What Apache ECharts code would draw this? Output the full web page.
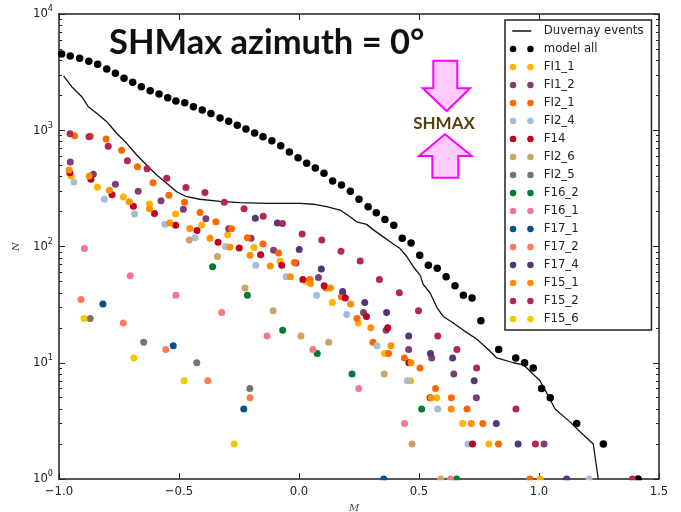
<!DOCTYPE html>
<html>
<head>
<meta charset="utf-8">
<script src="https://cdn.jsdelivr.net/npm/echarts@6/dist/echarts.min.js"></script>
<style>
html,body{margin:0;padding:0;background:#fff;}
#chart{width:681px;height:512px;}
</style>
</head>
<body>
<div id="chart"></div>
<script>
// Magnitude-frequency counts, N events with magnitude >= M
const xTicks = [-1.0, -0.5, 0.0, 0.5, 1.0, 1.5];
const yTicks = [1, 10, 100, 1000, 10000];

const duvernay = [
  [-0.981,2930],[-0.947,2370],[-0.905,1945],[-0.878,1595],[-0.843,1400],[-0.801,1185],
  [-0.760,942],[-0.718,772],[-0.676,612],[-0.635,502],[-0.593,412],[-0.551,350],
  [-0.510,296],[-0.468,268],[-0.413,255],[-0.329,244],[-0.246,238],[-0.135,235],
  [0.004,235],[0.060,231],[0.115,220],[0.171,206],[0.213,180],[0.240,163],
  [0.282,155],[0.310,139],[0.351,121],[0.393,105],[0.421,96],[0.449,82],
  [0.476,67],[0.504,57],[0.518,47],[0.546,40],[0.574,30],[0.601,25],
  [0.643,22],[0.685,19],[0.740,16],[0.789,13],[0.824,11],[0.893,10],
  [0.935,9.6],[1.004,7],[1.032,5.5],[1.067,4],[1.129,3.1],[1.171,2.55],
  [1.226,2],[1.247,1]
];

const modelAll = [
  [-0.989,4530],[-0.953,4350],[-0.914,4160],[-0.876,3920],[-0.839,3690],[-0.801,3370],
  [-0.765,3090],[-0.729,2800],[-0.693,2590],[-0.657,2370],[-0.620,2190],[-0.583,2050],
  [-0.547,1905],[-0.513,1785],[-0.476,1726],[-0.440,1595],[-0.403,1493],[-0.367,1394],
  [-0.329,1274],[-0.293,1194],[-0.257,1104],[-0.221,1025],[-0.185,947],[-0.150,880],
  [-0.113,813],[-0.076,736],[-0.040,650],[-0.004,581],[0.032,520],[0.068,473],
  [0.104,426],[0.140,366],[0.177,338],[0.214,298],[0.250,255],[0.288,220],
  [0.322,195],[0.358,171],[0.395,152],[0.430,118],[0.467,107],[0.503,84],
  [0.539,69],[0.576,65],[0.613,55],[0.650,46],[0.685,38],[0.721,36],
  [0.758,23],[0.832,13],[0.903,11],[0.940,10],[0.976,9],[1.011,6],
  [1.047,5],[1.157,3],[1.268,2],[1.413,1]
];

const FI1_1 = [[-0.949,404],[-0.840,323],[-0.732,267],[-0.623,232],[-0.514,190],[-0.405,153],[-0.297,126],[-0.188,98],[-0.079,75],[0.030,50],[0.139,33],[0.247,22],[0.356,12],[0.465,7],[0.574,5],[0.682,3],[0.791,2],[1.005,1]];
const FI1_2 = [[-0.953,533],[-0.857,418],[-0.765,343],[-0.670,298],[-0.575,248],[-0.482,209],[-0.388,173],[-0.293,142],[-0.200,118],[-0.106,93],[-0.013,72],[0.081,54],[0.182,39],[0.269,27],[0.363,19],[0.457,13],[0.553,11],[0.645,8],[0.739,5],[1.021,2]];
const FI2_1 = [[-0.935,898],[-0.869,890],[-0.804,841],[-0.739,672],[-0.673,485],[-0.608,354],[-0.542,276],[-0.477,240],[-0.412,196],[-0.346,163],[-0.281,142],[-0.215,119],[-0.150,105],[-0.085,88],[-0.019,73],[0.046,52],[0.112,44],[0.177,37],[0.242,24],[0.308,15],[0.373,12],[0.439,11],[0.504,9],[0.569,6],[0.635,5],[0.700,4],[0.766,3],[0.831,2],[0.962,1]];
const FI2_4 = [[-0.938,359],[-0.811,255],[-0.685,190],[-0.559,155],[-0.433,119],[-0.306,100],[-0.180,69],[-0.054,55],[0.073,38],[0.199,26],[0.325,14],[0.451,7],[0.578,4],[0.704,2],[1.209,1]];
const F14 = [[-0.955,431],[-0.867,379],[-0.779,279],[-0.690,222],[-0.602,192],[-0.514,152],[-0.425,137],[-0.337,109],[-0.249,97],[-0.160,85],[-0.072,69],[0.016,52],[0.105,46],[0.193,36],[0.281,25],[0.370,20],[0.458,10],[0.546,5],[0.723,2]];
const FI2_6 = [[-0.457,114],[-0.340,82],[-0.225,44],[-0.108,28],[0.008,17],[0.124,15],[0.355,8],[0.471,2],[0.590,1]];
const FI2_5 = [[-0.870,24],[-0.647,15],[-0.426,10],[-0.205,6]];
const F16_2 = [[-0.360,67],[-0.215,38],[-0.068,19],[0.076,12],[0.221,8],[0.511,4],[0.657,1]];
const F16_1 = [[-0.894,96],[-0.703,56],[-0.513,38],[-0.322,27],[-0.133,17],[0.058,13],[0.249,6],[0.440,3],[0.631,1]];
const F17_1 = [[-0.817,32],[-0.524,14],[-0.230,4],[0.353,1]];
const F17_2 = [[-0.908,35],[-0.732,22],[-0.555,13],[-0.380,7],[-0.204,5]];
const F17_4 = [[-0.182,175],[-0.090,159],[0.001,94],[0.093,64],[0.182,41],[0.274,33],[0.365,27],[0.457,17],[0.548,12],[0.640,11],[0.730,7],[0.822,3],[0.913,2],[1.115,1]];
const F15_1 = [[-0.958,455],[-0.874,404],[-0.790,304],[-0.707,243],[-0.623,211],[-0.539,159],[-0.455,143],[-0.371,118],[-0.288,99],[-0.204,84],[-0.120,68],[-0.036,55],[0.048,48],[0.131,44],[0.215,32],[0.299,20],[0.383,14],[0.467,10],[0.550,5],[0.634,4],[0.718,3]];
const F15_2 = [[-0.954,934],[-0.875,880],[-0.795,728],[-0.715,547],[-0.633,467],[-0.551,386],[-0.471,322],[-0.392,291],[-0.311,240],[-0.229,211],[-0.149,182],[-0.069,158],[0.013,128],[0.095,114],[0.175,91],[0.255,75],[0.335,52],[0.418,40],[0.498,28],[0.578,17],[0.658,13],[0.740,9],[0.904,4],[0.985,2],[1.389,1]];
const F15_6 = [[-0.896,24],[-0.688,11],[-0.479,7],[-0.270,2]];

const faults = [
  ['FI1_1', FI1_1, '#FFB300'],
  ['FI1_2', FI1_2, '#803E75'],
  ['FI2_1', FI2_1, '#FF6800'],
  ['FI2_4', FI2_4, '#A6BDD7'],
  ['F14',   F14,   '#C10020'],
  ['FI2_6', FI2_6, '#CEA262'],
  ['FI2_5', FI2_5, '#817066'],
  ['F16_2', F16_2, '#007D34'],
  ['F16_1', F16_1, '#F6768E'],
  ['F17_1', F17_1, '#00538A'],
  ['F17_2', F17_2, '#FF7A5C'],
  ['F17_4', F17_4, '#53377A'],
  ['F15_1', F15_1, '#FF8E00'],
  ['F15_2', F15_2, '#B32851'],
  ['F15_6', F15_6, '#F4C800']
];

// minor ticks of the log axis, as log10 positions on a helper linear axis
const minorLog = [];
for (let d = 0; d < 4; d++) {
  for (let m = 2; m <= 9; m++) minorLog.push(d + Math.log10(m));
}

const tickFont = "'DejaVu Sans Condensed', 'DejaVu Sans', sans-serif";
const frame = { show: true, onZero: false, lineStyle: { color: '#222', width: 1.5 } };
const twoDots = 'path://M0,3.25a3.25,3.25 0 1,0 6.5,0a3.25,3.25 0 1,0 -6.5,0zM17.4,3.25a3.25,3.25 0 1,0 6.5,0a3.25,3.25 0 1,0 -6.5,0z';

const series = [
  {
    name: 'Duvernay events', type: 'line', data: duvernay,
    xAxisIndex: 0, yAxisIndex: 0, symbol: 'none', showSymbol: false,
    color: '#111', lineStyle: { color: '#111', width: 1.3 }, z: 2, silent: true
  },
  {
    name: 'model all', type: 'scatter', data: modelAll,
    xAxisIndex: 0, yAxisIndex: 0, symbolSize: 7.5,
    itemStyle: { color: '#000', opacity: 1 }, z: 3, silent: true
  }
];
faults.forEach(function (f) {
  series.push({
    name: f[0], type: 'scatter', data: f[1],
    xAxisIndex: 0, yAxisIndex: 0, symbolSize: 7,
    itemStyle: { color: f[2], opacity: 1 }, z: 4, silent: true
  });
});

const legendData = [
  { name: 'Duvernay events', itemStyle: { opacity: 0 } },
  { name: 'model all', icon: twoDots }
].concat(faults.map(function (f) { return { name: f[0], icon: twoDots }; }));

const option = {
  animation: false,
  backgroundColor: '#fff',
  title: {
    text: 'SHMax azimuth = 0°',
    left: 109, top: 25, padding: 0,
    textStyle: { fontFamily: 'Lato', fontWeight: 'bold', fontSize: 34.5, color: '#111' }
  },
  grid: { left: 59, right: 22, top: 14, bottom: 33, containLabel: false, outerBoundsMode: 'none' },
  legend: {
    orient: 'vertical', left: 505, top: 20,
    padding: [4, 8, 4, 4], itemGap: 4,
    itemWidth: 24, itemHeight: 6.5,
    backgroundColor: '#fff', borderColor: '#222', borderWidth: 1.5,
    selectedMode: false,
    lineStyle: { type: [0, 2.5, 19, 40], width: 1.5 },
    textStyle: {
      fontFamily: "'DejaVu Sans Condensed', 'DejaVu Sans', sans-serif",
      fontSize: 13, color: '#222', lineHeight: 14, padding: [0, 0, 0, 5]
    },
    data: legendData
  },
  xAxis: [
    {
      type: 'value', position: 'bottom', min: -1, max: 1.5, interval: 0.5,
      axisLine: frame,
      axisTick: { show: true, inside: true, length: 6, lineStyle: { color: '#222', width: 1 } },
      axisLabel: {
        margin: 6, fontFamily: tickFont, fontSize: 13, color: '#222',
        formatter: function (v) { return (v < 0 ? '\u2212' : '') + Math.abs(v).toFixed(1); }
      },
      splitLine: { show: false },
      name: 'M', nameLocation: 'middle', nameGap: 24,
      nameTextStyle: { fontFamily: 'DejaVu Serif', fontStyle: 'italic', fontSize: 10, color: '#444', padding: [0, 10, 0, 0] }
    },
    {
      type: 'value', position: 'top', min: -1, max: 1.5, interval: 0.5,
      axisLine: frame,
      axisTick: { show: true, inside: true, length: 6, lineStyle: { color: '#222', width: 1 } },
      axisLabel: { show: false }, splitLine: { show: false }
    }
  ],
  yAxis: [
    {
      type: 'log', logBase: 10, min: 1, max: 10000, position: 'left',
      axisLine: frame,
      axisTick: { show: true, inside: true, length: 6, lineStyle: { color: '#222', width: 1 } },
      axisLabel: {
        margin: 6, fontFamily: tickFont, fontSize: 13, color: '#222',
        formatter: function (v) { return '10{s|' + Math.round(Math.log10(v)) + '}'; },
        rich: { s: { fontFamily: tickFont, fontSize: 9, color: '#222', padding: [0, 0, 10, 0] } }
      },
      splitLine: { show: false }, minorTick: { show: false },
      name: 'N', nameLocation: 'middle', nameGap: 38,
      nameTextStyle: { fontFamily: 'DejaVu Serif', fontStyle: 'italic', fontSize: 10, color: '#444' }
    },
    {
      type: 'value', min: 0, max: 4, position: 'left',
      axisLine: { show: false, onZero: false },
      axisTick: { show: true, inside: true, length: 3, customValues: minorLog, lineStyle: { color: '#222', width: 1 } },
      axisLabel: { show: false }, splitLine: { show: false }
    },
    {
      type: 'log', logBase: 10, min: 1, max: 10000, position: 'right',
      axisLine: frame,
      axisTick: { show: true, inside: true, length: 6, lineStyle: { color: '#222', width: 1 } },
      axisLabel: { show: false }, splitLine: { show: false }
    },
    {
      type: 'value', min: 0, max: 4, position: 'right',
      axisLine: { show: false, onZero: false },
      axisTick: { show: true, inside: true, length: 3, customValues: minorLog, lineStyle: { color: '#222', width: 1 } },
      axisLabel: { show: false }, splitLine: { show: false }
    }
  ],
  graphic: [
    {
      // markers sitting on the lower frame edge are cut off at the plot boundary
      type: 'rect', silent: true, z: 100,
      shape: { x: 56, y: 480.2, width: 606, height: 3.2 },
      style: { fill: '#fff' }
    },
    {
      type: 'polygon', silent: true,
      shape: { points: [[433.3,60.7],[457.3,60.7],[457.3,88.3],[470,88.3],[446.7,111],[422.7,88.3],[433.3,88.3]] },
      style: { fill: '#FFCCFF', stroke: '#FF00FF', lineWidth: 2 }
    },
    {
      type: 'polygon', silent: true,
      shape: { points: [[445,134.3],[471.7,156],[458.3,156],[458.3,177.7],[432.3,177.7],[432.3,156],[419,156]] },
      style: { fill: '#FFCCFF', stroke: '#FF00FF', lineWidth: 2 }
    },
    {
      type: 'text', silent: true, x: 444, y: 123.5,
      style: {
        text: 'SHMAX', fill: '#5A3D0C', font: 'bold 17px Lato',
        textAlign: 'center', textVerticalAlign: 'middle'
      }
    }
  ],
  series: series
};

const chart = echarts.init(document.getElementById('chart'), null, { renderer: 'canvas' });
chart.setOption(option);
</script>
</body>
</html>
